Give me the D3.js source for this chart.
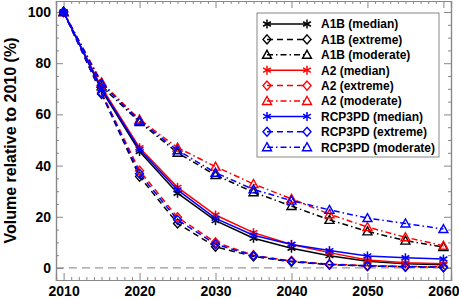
<!DOCTYPE html>
<html>
<head>
<meta charset="utf-8">
<script src="https://cdn.jsdelivr.net/npm/d3@7"></script>
<style>
    body { margin: 0; background: #fff; }
    text { font-family: "Liberation Sans", Arial, sans-serif; font-weight: bold; }
</style>
</head>
<body>
<div id="chart"></div>
<script>
// years on the x axis
var years = [2010, 2015, 2020, 2025, 2030, 2035, 2040, 2045, 2050, 2055, 2060];

// volume relative to 2010 (%)
var a1b_median   = [100, 69.5, 45.5, 29.2, 18.5, 11.6, 7.7, 4.8, 2.6, 1.6, 1.3];
var a1b_extreme  = [100, 68.0, 35.7, 17.4, 8.3, 4.5, 2.4, 1.3, 0.8, 0.5, 0.3];
var a1b_moderate = [100, 71.0, 57.0, 45.0, 36.3, 29.6, 24.2, 18.8, 14.3, 10.7, 8.2];
var a2_median    = [100, 70.5, 47.0, 31.5, 20.7, 13.8, 9.2, 6.0, 3.1, 2.0, 1.6];
var a2_extreme   = [100, 68.5, 38.0, 19.8, 10.0, 5.0, 2.7, 1.5, 0.9, 0.6, 0.4];
var a2_moderate  = [100, 72.5, 58.0, 47.0, 39.6, 32.8, 27.0, 21.0, 16.0, 12.0, 8.7];
var rcp_median   = [100, 70.0, 46.3, 30.5, 19.4, 12.8, 9.2, 6.8, 4.7, 4.0, 3.5];
var rcp_extreme  = [100, 68.2, 36.8, 18.8, 9.3, 4.8, 2.6, 1.4, 0.8, 0.5, 0.3];
var rcp_moderate = [100, 72.0, 57.5, 46.0, 37.2, 30.7, 26.3, 22.7, 19.5, 17.4, 15.2];

var yTicks = [0, 20, 40, 60, 80, 100];
var xTicks = [2010, 2020, 2030, 2040, 2050, 2060];

var series = [
    { name: "A1B (median)", values: a1b_median, color: "#000", dash: null, marker: "star" },
    { name: "A1B (extreme)", values: a1b_extreme, color: "#000", dash: "6,4", marker: "diamond" },
    { name: "A1B (moderate)", values: a1b_moderate, color: "#000", dash: "6,3,1.5,3", marker: "triangle" },
    { name: "A2 (median)", values: a2_median, color: "#ff0000", dash: null, marker: "star" },
    { name: "A2 (extreme)", values: a2_extreme, color: "#ff0000", dash: "6,4", marker: "diamond" },
    { name: "A2 (moderate)", values: a2_moderate, color: "#ff0000", dash: "6,3,1.5,3", marker: "triangle" },
    { name: "RCP3PD (median)", values: rcp_median, color: "#0000ff", dash: null, marker: "star" },
    { name: "RCP3PD (extreme)", values: rcp_extreme, color: "#0000ff", dash: "6,4", marker: "diamond" },
    { name: "RCP3PD (moderate)", values: rcp_moderate, color: "#0000ff", dash: "6,3,1.5,3", marker: "triangle" }
];

var W = 459, H = 299;
var margin = { top: 1, right: 8, bottom: 19, left: 56 };
var width = W - margin.left - margin.right;
var height = H - margin.top - margin.bottom;

var svg = d3.select("#chart")
    .append("svg")
    .attr("width", W)
    .attr("height", H);

var g = svg.append("g")
    .attr("transform", "translate(" + margin.left + "," + margin.top + ")");

var x = d3.scaleLinear().domain([2009, 2061]).range([0, width]);
var y = d3.scaleLinear().domain([-4.7, 104.3]).range([height, 0]);

// zero reference line
g.append("line")
    .attr("x1", 0).attr("x2", width)
    .attr("y1", y(0)).attr("y2", y(0))
    .attr("stroke", "#999")
    .attr("stroke-width", 1.2)
    .attr("stroke-dasharray", "8,5");

// axes with inward ticks (major + minor), mirrored on top/right
function drawAxes() {
    let minorX = d3.range(2009, 2062, 1).filter(function (d) { return d % 10 !== 0; });
    let minorY = d3.range(0, 105, 5).filter(function (d) { return d % 20 !== 0; });

    let bottom = g.append("g").attr("transform", "translate(0," + height + ")");
    bottom.call(d3.axisBottom(x).tickValues(minorX).tickSize(-3).tickFormat(""));
    bottom.append("g").call(d3.axisBottom(x).tickValues(xTicks).tickSize(-7).tickPadding(6).tickFormat(d3.format("d")));

    let top = g.append("g");
    top.call(d3.axisTop(x).tickValues(minorX).tickSize(-3).tickFormat(""));
    top.append("g").call(d3.axisTop(x).tickValues(xTicks).tickSize(-7).tickFormat(""));

    let left = g.append("g");
    left.call(d3.axisLeft(y).tickValues(minorY).tickSize(-3).tickFormat(""));
    left.append("g").call(d3.axisLeft(y).tickValues(yTicks).tickSize(-7).tickPadding(5).tickFormat(d3.format("d")));

    let right = g.append("g").attr("transform", "translate(" + width + ",0)");
    right.call(d3.axisRight(y).tickValues(minorY).tickSize(-3).tickFormat(""));
    right.append("g").call(d3.axisRight(y).tickValues(yTicks).tickSize(-7).tickFormat(""));

    g.selectAll(".domain").attr("stroke", "#888").attr("stroke-width", 1.2);
    g.selectAll(".tick line").attr("stroke", "#888");
    g.selectAll(".tick text")
        .attr("fill", "#000")
        .style("font-size", "14px")
        .style("font-weight", "bold")
        .style("font-family", "'Liberation Sans', Arial, sans-serif");
}
drawAxes();

// y axis title
svg.append("text")
    .attr("transform", "translate(16," + (margin.top + height / 2) + ") rotate(-90)")
    .attr("text-anchor", "middle")
    .style("font-size", "16px")
    .text("Volume relative to 2010 (%)");

function drawMarker(sel, type, color) {
    if (type === "star") {
        let r = 4.5;
        [90, 30, -30].forEach(function (a) {
            let rad = a * Math.PI / 180;
            sel.append("line")
                .attr("x1", -r * Math.cos(rad)).attr("y1", -r * Math.sin(rad))
                .attr("x2", r * Math.cos(rad)).attr("y2", r * Math.sin(rad))
                .attr("stroke", color).attr("stroke-width", 1.5);
        });
    } else if (type === "diamond") {
        sel.append("path")
            .attr("d", "M0,-4.5L4,0L0,4.5L-4,0Z")
            .attr("fill", "none").attr("stroke", color).attr("stroke-width", 1.4);
    } else {
        sel.append("path")
            .attr("d", "M0,-4.5L4.5,3.5L-4.5,3.5Z")
            .attr("fill", "none").attr("stroke", color).attr("stroke-width", 1.4);
    }
}

var line = d3.line()
    .x(function (d, i) { return x(years[i]); })
    .y(function (d) { return y(d); });

series.forEach(function (s) {
    g.append("path")
        .datum(s.values)
        .attr("d", line)
        .attr("fill", "none")
        .attr("stroke", s.color)
        .attr("stroke-width", 1.5)
        .attr("stroke-dasharray", s.dash);

    g.selectAll(null)
        .data(s.values)
        .enter()
        .append("g")
        .attr("transform", function (d, i) {
            return "translate(" + x(years[i]) + "," + y(d) + ")";
        })
        .each(function () {
            drawMarker(d3.select(this), s.marker, s.color);
        });
});

// legend
var legend = svg.append("g").attr("transform", "translate(257,13)");
legend.append("rect")
    .attr("width", 182).attr("height", 144)
    .attr("fill", "#fff")
    .attr("stroke", "#888")
    .attr("stroke-width", 1);

var rows = legend.selectAll(".row")
    .data(series)
    .enter()
    .append("g")
    .attr("class", "row")
    .attr("transform", function (d, i) { return "translate(0," + (11 + i * 15.4) + ")"; });

rows.append("line")
    .attr("x1", 10).attr("x2", 50)
    .attr("stroke", function (d) { return d.color; })
    .attr("stroke-width", 1.5)
    .attr("stroke-dasharray", function (d) { return d.dash; });

rows.each(function (d) {
    let r = d3.select(this);
    drawMarker(r.append("g").attr("transform", "translate(10,0)"), d.marker, d.color);
    drawMarker(r.append("g").attr("transform", "translate(50,0)"), d.marker, d.color);
});

rows.append("text")
    .attr("x", 64)
    .attr("dy", "0.36em")
    .style("font-size", "12px")
    .text(function (d) { return d.name; });
</script>
</body>
</html>
